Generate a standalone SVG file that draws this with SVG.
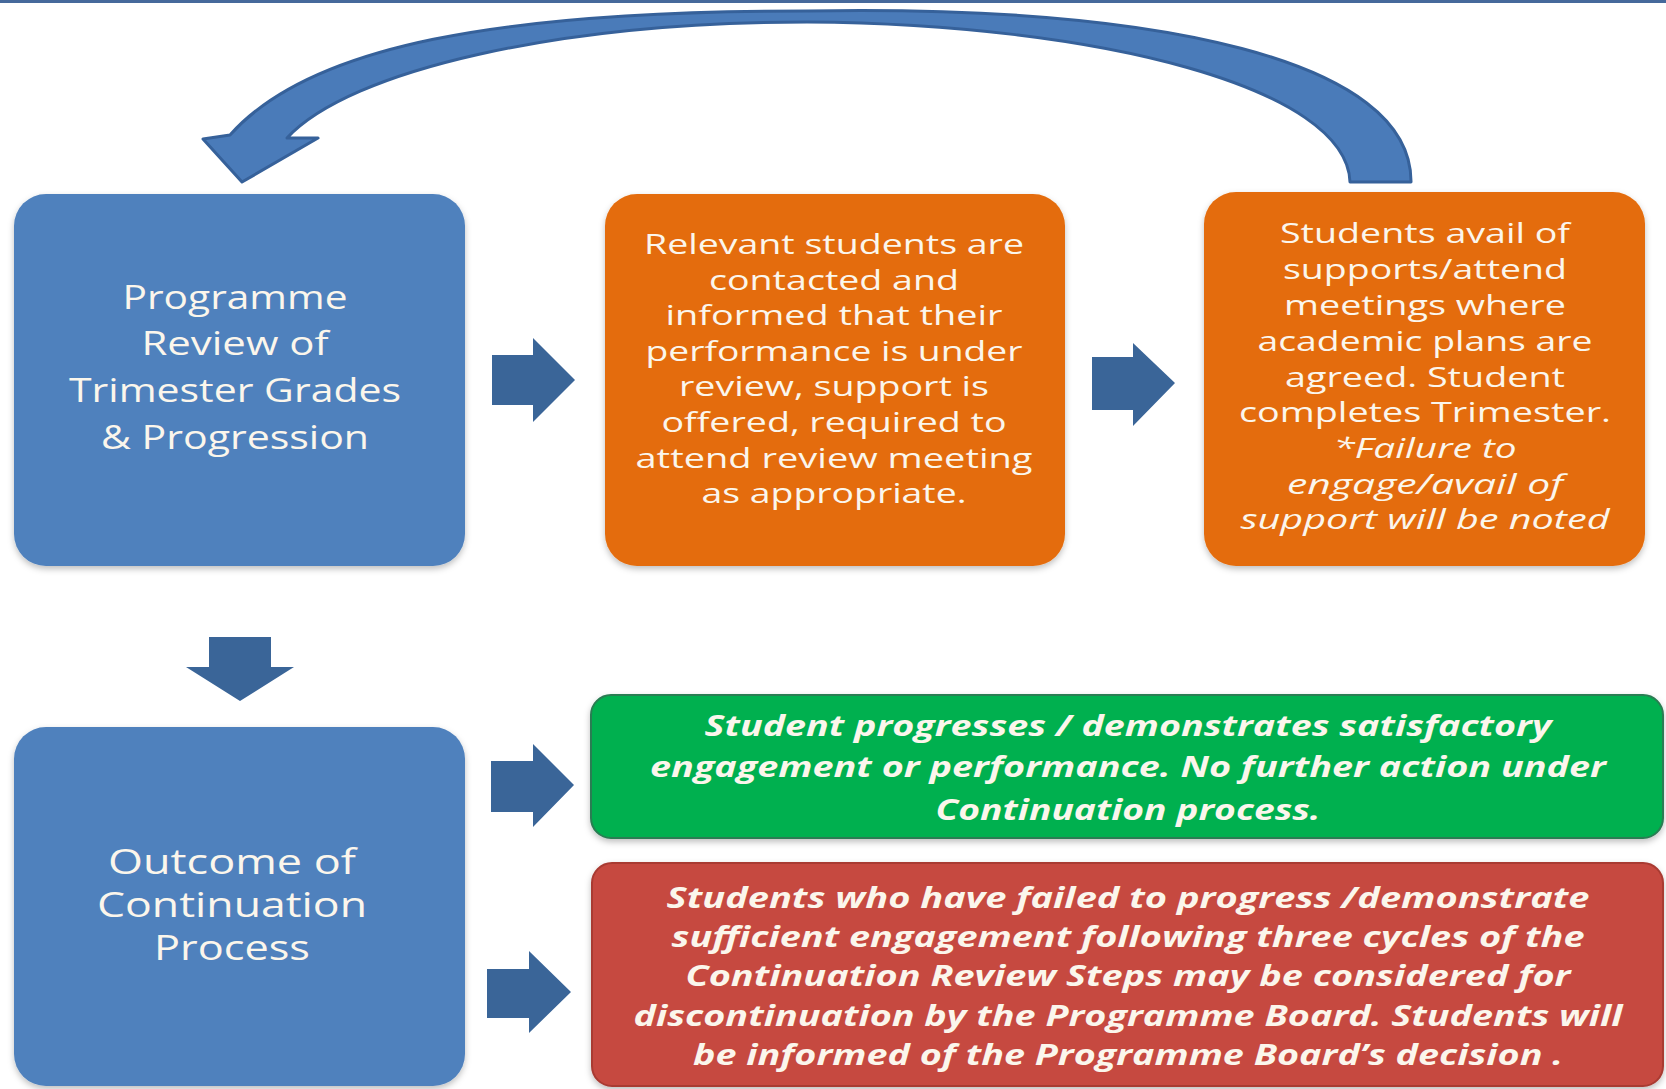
<svg xmlns="http://www.w3.org/2000/svg" width="1666" height="1089" viewBox="0 0 1666 1089">
<defs>
<filter id="sh" x="-5%" y="-5%" width="110%" height="115%">
<feDropShadow dx="0" dy="3" stdDeviation="3" flood-color="#000" flood-opacity="0.25"/>
</filter>
<style>
.blue{fill:#4f81bd;filter:url(#sh)}
.orange{fill:#e46c0a;filter:url(#sh)}
.green{fill:#00b050;stroke:#2a7d52;stroke-width:2;filter:url(#sh)}
.red{fill:#c6493f;stroke:#a93a33;stroke-width:2;filter:url(#sh)}
.arr{fill:#3a6598}
.t{font-family:"Open Sans","Liberation Sans",sans-serif;fill:#fbf6ec;text-anchor:middle}
.b1{font-size:33px}
.b2{font-size:27px}
.b4{font-size:35px}
.it{font-style:italic}
.bi{font-size:28px;font-weight:bold;font-style:italic}
</style>
</defs>
<rect width="1666" height="1089" fill="#ffffff"/>
<rect x="0" y="0" width="1666" height="3" fill="#46699b"/>

<g id="connectors">
<path id="loop-arrow" d="M1411,182 C1412,60 1160,5 807,11 C500,11 310,45 230,135 L203,139 L242,182 L318,138 L287,138 C350,70 560,22 807,22 C1100,24 1347,88 1350,182 Z" fill="#4a7bb9" stroke="#36619a" stroke-width="3" stroke-linejoin="round"/>
<path class="arr" d="M492,355 L533,355 L533,338 L575,380 L533,422 L533,405 L492,405 Z"/>
<path class="arr" d="M1092,357 L1133,357 L1133,343 L1175,383 L1133,426 L1133,410 L1092,410 Z"/>
<path class="arr" d="M209,637 L271,637 L271,667 L294,667 L240,701 L186,667 L209,667 Z"/>
<path class="arr" d="M491,761 L533,761 L533,744 L574,785 L533,827 L533,812 L491,812 Z"/>
<path class="arr" d="M487,969 L529,969 L529,951 L571,992 L529,1033 L529,1018 L487,1018 Z"/>
</g>

<g id="node-review">
<rect class="blue" x="14" y="194" width="451" height="372" rx="32"/>
<text class="t b1" x="235" y="309" textLength="225" lengthAdjust="spacingAndGlyphs">Programme</text>
<text class="t b1" x="235" y="355" textLength="187" lengthAdjust="spacingAndGlyphs">Review of</text>
<text class="t b1" x="235" y="402" textLength="332" lengthAdjust="spacingAndGlyphs">Trimester Grades</text>
<text class="t b1" x="235" y="449" textLength="268" lengthAdjust="spacingAndGlyphs">&amp; Progression</text>
</g>

<g id="node-contacted">
<rect class="orange" x="605" y="194" width="460" height="372" rx="32"/>
<text class="t b2" x="834" y="254" textLength="380" lengthAdjust="spacingAndGlyphs">Relevant students are</text>
<text class="t b2" x="834" y="290" textLength="250" lengthAdjust="spacingAndGlyphs">contacted and</text>
<text class="t b2" x="834" y="325" textLength="337" lengthAdjust="spacingAndGlyphs">informed that their</text>
<text class="t b2" x="834" y="361" textLength="377" lengthAdjust="spacingAndGlyphs">performance is under</text>
<text class="t b2" x="834" y="396" textLength="310" lengthAdjust="spacingAndGlyphs">review, support is</text>
<text class="t b2" x="834" y="432" textLength="345" lengthAdjust="spacingAndGlyphs">offered, required to</text>
<text class="t b2" x="834" y="468" textLength="397" lengthAdjust="spacingAndGlyphs">attend review meeting</text>
<text class="t b2" x="834" y="503" textLength="265" lengthAdjust="spacingAndGlyphs">as appropriate.</text>
</g>

<g id="node-supports">
<rect class="orange" x="1204" y="192" width="441" height="374" rx="32"/>
<text class="t b2" x="1425" y="243" textLength="290" lengthAdjust="spacingAndGlyphs">Students avail of</text>
<text class="t b2" x="1425" y="279" textLength="284" lengthAdjust="spacingAndGlyphs">supports/attend</text>
<text class="t b2" x="1425" y="315" textLength="282" lengthAdjust="spacingAndGlyphs">meetings where</text>
<text class="t b2" x="1425" y="351" textLength="335" lengthAdjust="spacingAndGlyphs">academic plans are</text>
<text class="t b2" x="1425" y="387" textLength="280" lengthAdjust="spacingAndGlyphs">agreed. Student</text>
<text class="t b2" x="1425" y="422" textLength="372" lengthAdjust="spacingAndGlyphs">completes Trimester.</text>
<text class="t b2 it" x="1425" y="458" textLength="183" lengthAdjust="spacingAndGlyphs">*Failure to</text>
<text class="t b2 it" x="1425" y="494" textLength="276" lengthAdjust="spacingAndGlyphs">engage/avail of</text>
<text class="t b2 it" x="1425" y="529" textLength="369" lengthAdjust="spacingAndGlyphs">support will be noted</text>
</g>

<g id="node-outcome">
<rect class="blue" x="14" y="727" width="451" height="359" rx="32"/>
<text class="t b4" x="232" y="874" textLength="248" lengthAdjust="spacingAndGlyphs">Outcome of</text>
<text class="t b4" x="232" y="917" textLength="270" lengthAdjust="spacingAndGlyphs">Continuation</text>
<text class="t b4" x="232" y="960" textLength="156" lengthAdjust="spacingAndGlyphs">Process</text>
</g>

<g id="node-progresses">
<rect class="green" x="591" y="695" width="1072" height="143" rx="20"/>
<text class="t bi" x="1128" y="736" textLength="847" lengthAdjust="spacingAndGlyphs">Student progresses / demonstrates satisfactory</text>
<text class="t bi" x="1128" y="777" textLength="956" lengthAdjust="spacingAndGlyphs">engagement or performance. No further action under</text>
<text class="t bi" x="1128" y="820" textLength="385" lengthAdjust="spacingAndGlyphs">Continuation process.</text>
</g>

<g id="node-discontinuation">
<rect class="red" x="592" y="863" width="1071" height="223" rx="20"/>
<text class="t bi" x="1128" y="908" textLength="923" lengthAdjust="spacingAndGlyphs">Students who have failed to progress /demonstrate</text>
<text class="t bi" x="1128" y="947" textLength="913" lengthAdjust="spacingAndGlyphs">sufficient engagement following three cycles of the</text>
<text class="t bi" x="1128" y="986" textLength="885" lengthAdjust="spacingAndGlyphs">Continuation Review Steps may be considered for</text>
<text class="t bi" x="1128" y="1026" textLength="989" lengthAdjust="spacingAndGlyphs">discontinuation by the Programme Board. Students will</text>
<text class="t bi" x="1128" y="1065" textLength="870" lengthAdjust="spacingAndGlyphs">be informed of the Programme Board’s decision .</text>
</g>
</svg>
